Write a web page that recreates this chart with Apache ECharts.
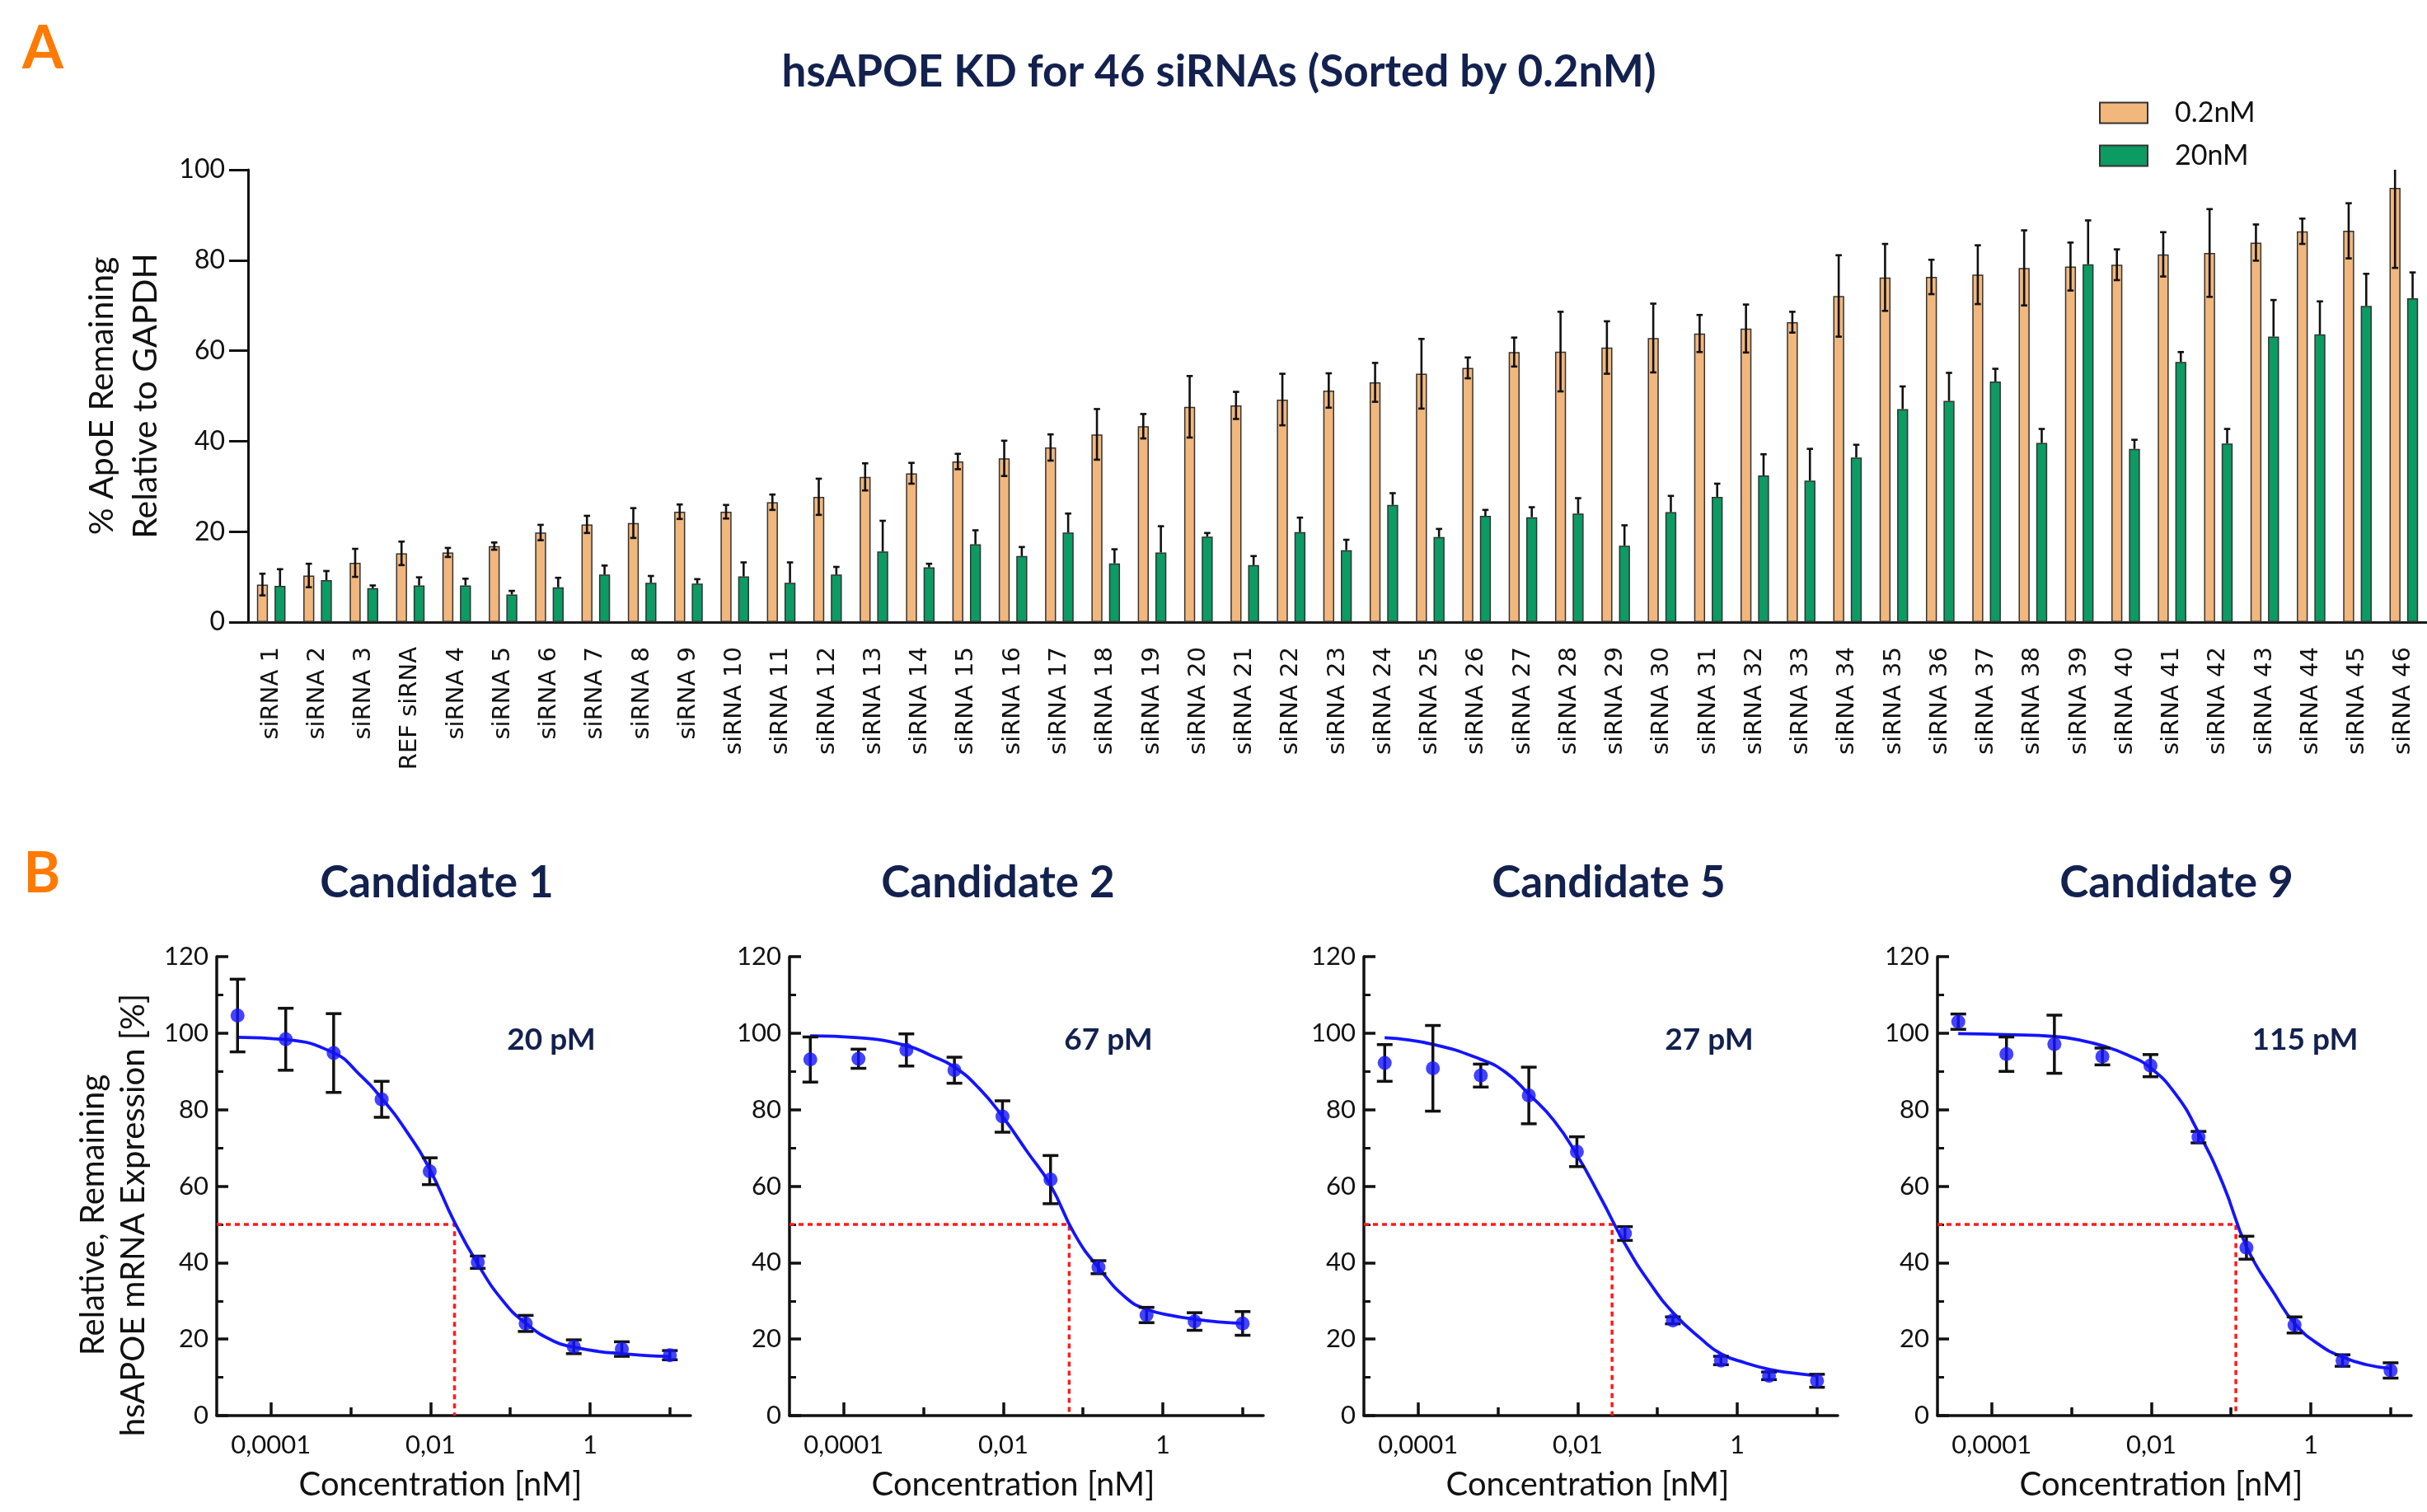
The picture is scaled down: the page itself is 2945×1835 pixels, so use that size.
<!DOCTYPE html>
<html><head><meta charset="utf-8">
<script src="https://cdn.jsdelivr.net/npm/echarts@6/dist/echarts.min.js"></script>
<style>html,body{margin:0;padding:0;background:#fff}#c{width:2945px;height:1835px}</style>
</head><body><div id="c"></div>
<script>
// ---------- Panel A data ----------
const categories = ['siRNA 1','siRNA 2','siRNA 3','REF siRNA','siRNA 4','siRNA 5','siRNA 6','siRNA 7','siRNA 8','siRNA 9',
  'siRNA 10','siRNA 11','siRNA 12','siRNA 13','siRNA 14','siRNA 15','siRNA 16','siRNA 17','siRNA 18','siRNA 19',
  'siRNA 20','siRNA 21','siRNA 22','siRNA 23','siRNA 24','siRNA 25','siRNA 26','siRNA 27','siRNA 28','siRNA 29',
  'siRNA 30','siRNA 31','siRNA 32','siRNA 33','siRNA 34','siRNA 35','siRNA 36','siRNA 37','siRNA 38','siRNA 39',
  'siRNA 40','siRNA 41','siRNA 42','siRNA 43','siRNA 44','siRNA 45','siRNA 46'];
const kd02 = [8.3,10.3,13.1,15.2,15.4,16.8,19.8,21.6,21.9,24.4,24.4,26.5,27.7,32.1,32.9,35.5,36.2,38.6,41.5,43.3,
  47.6,47.9,49.2,51.2,53.0,54.9,56.2,59.7,59.8,60.7,62.8,63.8,64.9,66.3,72.1,76.2,76.3,76.8,78.3,78.6,
  79.0,81.3,81.6,83.9,86.4,86.5,96.0];
const kd02Err = [2.4,2.6,3.1,2.6,1.0,0.8,1.7,1.9,3.3,1.6,1.5,1.7,4.0,3.0,2.3,1.7,3.9,2.9,5.6,2.7,
  6.8,3.0,5.7,3.8,4.3,7.7,2.3,3.2,8.8,5.8,7.6,4.1,5.3,2.3,9.0,7.4,3.8,6.5,8.3,5.3,
  3.4,4.9,9.7,4.0,2.8,6.1,17.7];
const kd20 = [8.0,9.3,7.5,8.1,8.1,6.1,7.7,10.5,8.7,8.5,10.1,8.7,10.5,15.6,12.1,17.2,14.6,19.8,13.0,15.4,
  18.9,12.6,19.9,15.9,25.9,18.8,23.5,23.2,24.0,16.9,24.3,27.7,32.4,31.3,36.4,47.1,48.9,53.2,39.6,79.1,
  38.3,57.5,39.5,63.1,63.6,69.9,71.6];
const kd20Err = [3.7,2.0,0.6,1.8,1.5,0.8,2.1,2.0,1.5,1.0,3.1,4.5,1.7,6.8,0.8,3.1,2.0,4.2,3.1,5.8,
  0.8,2.0,3.2,2.3,2.6,1.8,1.3,2.2,3.4,4.5,3.6,2.9,4.7,7.0,2.8,5.0,6.2,2.8,3.1,9.7,
  2.0,2.2,3.2,8.1,7.3,7.1,5.7];
const seriesNamesA = ['0.2nM','20nM'];

// ---------- Panel B data ----------
const candidateNames = ['Candidate 1','Candidate 2','Candidate 5','Candidate 9'];
const concNM = [0.0000381,0.000153,0.00061,0.00244,0.00977,0.0391,0.156,0.625,2.5,10];
const cand1Mean = [104.6,98.4,94.8,82.7,63.9,40.1,24.1,18.0,17.4,15.8];
const cand1Err  = [9.5,8.1,10.3,4.7,3.5,1.6,2.1,1.8,1.9,1.2];
const cand2Mean = [93.1,93.3,95.6,90.3,78.2,61.7,38.8,26.3,24.6,24.1];
const cand2Err  = [5.9,2.5,4.2,3.4,4.1,6.3,1.7,2.0,2.3,3.1];
const cand5Mean = [92.2,90.8,88.9,83.7,69.0,47.6,24.9,14.4,10.4,9.1];
const cand5Err  = [4.8,11.2,3.0,7.4,3.9,1.8,0.9,1.1,1.0,1.7];
const cand9Mean = [103.0,94.5,97.1,93.9,91.5,72.8,43.9,23.7,14.4,11.8];
const cand9Err  = [2.0,4.5,7.6,2.2,2.9,1.5,3.0,2.1,1.5,2.0];
// fitted curves at these log10(nM) positions
const curveLogX  = [-4.42,-3.82,-3.21,-2.9,-2.61,-2.3,-2.01,-1.7,-1.41,-1.1,-0.8,-0.45,-0.2,0.1,0.4,0.7,1.0];
const cand1Curve = [98.9,98.3,94.8,89.4,82.9,74.3,64.4,50.6,39.7,30.2,24.0,19.4,17.9,16.8,16.2,15.7,15.5];
const cand2Curve = [99.3,98.8,96.7,94.1,91.1,85.5,78.2,69.0,60.3,47.2,38.5,30.6,27.8,26.2,25.2,24.5,24.1];
const cand5Curve = [98.8,97.1,93.1,89.7,84.0,77.2,68.2,56.5,45.0,34.8,26.8,20.0,16.1,13.8,12.1,11.1,10.4];
const cand9Curve = [99.9,99.6,99.1,98.2,96.7,94.3,90.9,84.2,74.1,60.5,43.9,31.6,24.0,18.6,15.3,13.3,12.3];
const ic50nM = [0.020,0.067,0.027,0.115];
const ic50Labels = ['20 pM','67 pM','27 pM','115 pM'];
const xMajorLog = [-4,-2,0];
const xMinorLog = [-3,-1,1];
const xTickLabels = ['0,0001','0,01','1'];

// ---------- styling / layout ----------
const FONT = 'Lato';
const NAVY = '#13214f';
const ORANGE_LBL = '#ff7a00';
const C_ORANGE = '#f2b77c';
const C_GREEN = '#0b9b63';
const BLUE = '#1414ff';
const RED = '#ff1a1a';
const INK = '#111111';
const X_MIN = -4.68, X_MAX = 1.26;

const means = [cand1Mean,cand2Mean,cand5Mean,cand9Mean];
const errs = [cand1Err,cand2Err,cand5Err,cand9Err];
const curves = [cand1Curve,cand2Curve,cand5Curve,cand9Curve];

const panelLeft = [263, 958, 1655, 2351];
const panelTop = 1161, panelW = 575, panelH = 557;
const titleCenters = [530, 1211, 1952, 2641];
const icLabelCenters = [669, 1345, 2074, 2797];

const chart = echarts.init(document.getElementById('c'));

const grids = [{left: 301, top: 206, width: 2655, height: 549}];
panelLeft.forEach(l => grids.push({left: l, top: panelTop, width: panelW, height: panelH}));

const xAxes = [{
  type: 'category', gridIndex: 0, data: categories, boundaryGap: true,
  axisLine: {lineStyle: {color: '#1a1a1a', width: 3}},
  axisTick: {alignWithLabel: true, length: 20, lineStyle: {color: '#1a1a1a', width: 3}},
  axisLabel: {interval: 0, rotate: 90, margin: 30, fontFamily: 'DejaVu Sans', fontSize: 29, color: INK},
  splitLine: {show: false}
}];
const yAxes = [{
  type: 'value', gridIndex: 0, min: 0, max: 100, interval: 20,
  axisLine: {show: true, lineStyle: {color: INK, width: 3}},
  axisTick: {show: true, length: 23, lineStyle: {color: INK, width: 3}},
  axisLabel: {fontSize: 32, fontFamily: FONT, color: INK, margin: 28},
  splitLine: {show: false},
  name: '% ApoE Remaining\nRelative to GAPDH', nameLocation: 'middle', nameGap: 98,
  nameTextStyle: {fontSize: 41, lineHeight: 53, fontFamily: FONT, color: INK}
}];
for (let g = 1; g <= 4; g++) {
  xAxes.push({
    type: 'value', gridIndex: g, min: X_MIN, max: X_MAX, position: 'bottom',
    axisLine: {show: true, onZero: false, lineStyle: {color: INK, width: 3.5}},
    axisTick: {show: true, inside: true, length: 16, lineStyle: {color: INK, width: 3.5}, customValues: xMajorLog},
    axisLabel: {show: true, customValues: xMajorLog, margin: 20, fontSize: 31, fontFamily: FONT, color: INK,
      formatter: v => xTickLabels[xMajorLog.indexOf(Math.round(v))] || ''},
    splitLine: {show: false},
    name: 'Concentration [nM]', nameLocation: 'middle', nameGap: 64,
    nameTextStyle: {fontSize: 40, fontFamily: FONT, color: INK, padding: [0, 32, 0, 0]}
  });
  const y = {
    type: 'value', gridIndex: g, min: 0, max: 120, interval: 20,
    axisLine: {show: true, onZero: false, lineStyle: {color: INK, width: 3.5}},
    axisTick: {show: true, inside: true, length: 14, lineStyle: {color: INK, width: 3.5}},
    minorTick: {show: true, splitNumber: 2, length: 8, lineStyle: {color: INK, width: 3}},
    axisLabel: {fontSize: 31, fontFamily: FONT, color: INK, margin: 10},
    splitLine: {show: false}, minorSplitLine: {show: false}
  };
  if (g === 1) {
    y.name = 'Relative, Remaining\nhsAPOE mRNA Expression [%]';
    y.nameLocation = 'middle';
    y.nameGap = 76;
    y.nameTextStyle = {fontSize: 40, lineHeight: 49, fontFamily: FONT, color: INK, padding: [0, 70, 0, 0]};
  }
  yAxes.push(y);
}
for (let g = 1; g <= 4; g++) {
  xAxes.push({
    type: 'value', gridIndex: g, min: X_MIN, max: X_MAX, position: 'bottom', offset: 0,
    axisLine: {show: false, onZero: false},
    axisTick: {show: true, inside: true, length: 10, lineStyle: {color: INK, width: 3.5}, customValues: xMinorLog},
    axisLabel: {show: false},
    splitLine: {show: false}
  });
}

// error bar renderers
const BAR_OFFSET = (0.237 + 0.237 * 0.6) / 2;
function barErr(sign, both) {
  return function (params, api) {
    const i = api.value(0), v = api.value(1), e = api.value(2);
    const band = api.size([1, 0])[0];
    const base = api.coord([i, v]);
    const cx = base[0] + sign * BAR_OFFSET * band;
    let topVal = v + e, topCap = true;
    if (topVal > 100) { topVal = 100; topCap = false; }
    const yt = api.coord([i, topVal])[1];
    const yb = both ? api.coord([i, Math.max(0, v - e)])[1] : base[1];
    const cap = 3.8;
    const st = {stroke: INK, lineWidth: 2.6};
    const ch = [{type: 'line', shape: {x1: cx, y1: yt, x2: cx, y2: yb}, style: st}];
    if (topCap) ch.push({type: 'line', shape: {x1: cx - cap, y1: yt, x2: cx + cap, y2: yt}, style: st});
    if (both) ch.push({type: 'line', shape: {x1: cx - cap, y1: yb, x2: cx + cap, y2: yb}, style: st});
    return {type: 'group', children: ch};
  };
}
function ptErr(params, api) {
  const x = api.value(0), v = api.value(1), e = api.value(2);
  const t = api.coord([x, v + e]), b = api.coord([x, v - e]);
  const cap = 9.5;
  const st = {stroke: INK, lineWidth: 3.5};
  return {type: 'group', children: [
    {type: 'line', shape: {x1: t[0], y1: t[1], x2: b[0], y2: b[1]}, style: st},
    {type: 'line', shape: {x1: t[0] - cap, y1: t[1], x2: t[0] + cap, y2: t[1]}, style: st},
    {type: 'line', shape: {x1: b[0] - cap, y1: b[1], x2: b[0] + cap, y2: b[1]}, style: st}
  ]};
}

const series = [
  {name: seriesNamesA[0], type: 'bar', xAxisIndex: 0, yAxisIndex: 0, data: kd02, barWidth: '23.7%', barGap: '60%',
    itemStyle: {color: C_ORANGE, borderColor: '#333', borderWidth: 1.5}},
  {name: seriesNamesA[1], type: 'bar', xAxisIndex: 0, yAxisIndex: 0, data: kd20, barWidth: '23.7%', barGap: '60%',
    itemStyle: {color: C_GREEN, borderColor: '#333', borderWidth: 1.5}},
  {type: 'custom', xAxisIndex: 0, yAxisIndex: 0, renderItem: barErr(-1, true), z: 5, silent: true,
    encode: {x: 0, y: 1}, data: kd02.map((v, i) => [i, v, kd02Err[i]])},
  {type: 'custom', xAxisIndex: 0, yAxisIndex: 0, renderItem: barErr(1, false), z: 5, silent: true,
    encode: {x: 0, y: 1}, data: kd20.map((v, i) => [i, v, kd20Err[i]])}
];
for (let k = 0; k < 4; k++) {
  const g = k + 1;
  const icLog = Math.log10(ic50nM[k]);
  series.push({type: 'line', xAxisIndex: g, yAxisIndex: g, symbol: 'none', silent: true, z: 1,
    lineStyle: {color: RED, width: 3.5, type: [6, 5]},
    data: [[X_MIN, 50], [icLog, 50], [icLog, 0]]});
  series.push({type: 'line', xAxisIndex: g, yAxisIndex: g, symbol: 'none', silent: true, z: 2,
    smooth: 0.5, lineStyle: {color: BLUE, width: 3.8},
    data: curveLogX.map((x, i) => [x, curves[k][i]])});
  series.push({type: 'custom', xAxisIndex: g, yAxisIndex: g, renderItem: ptErr, z: 3, silent: true,
    encode: {x: 0, y: 1}, data: concNM.map((c, i) => [Math.log10(c), means[k][i], errs[k][i]])});
  series.push({type: 'scatter', xAxisIndex: g, yAxisIndex: g, symbolSize: 17, z: 4, silent: true,
    itemStyle: {color: BLUE}, data: concNM.map((c, i) => [Math.log10(c), means[k][i]])});
}

function txt(text, x, y, size, color, weight) {
  return {type: 'text', x: x, y: y, silent: true, style: {text: text, fill: color, fontSize: size, fontWeight: weight || 'bold',
    fontFamily: FONT, align: 'center', verticalAlign: 'middle', textAlign: 'center', textVerticalAlign: 'middle'}};
}
const graphic = [
  txt('A', 52, 60, 72, ORANGE_LBL),
  txt('B', 51, 1061, 68, ORANGE_LBL),
  txt('hsAPOE KD for 46 siRNAs (Sorted by 0.2nM)', 1479, 88, 53, NAVY)
];
candidateNames.forEach((n, k) => graphic.push(txt(n, titleCenters[k], 1072, 53, NAVY)));
ic50Labels.forEach((n, k) => graphic.push(txt(n, icLabelCenters[k], 1262, 37, NAVY)));

chart.setOption({
  animation: false,
  backgroundColor: '#ffffff',
  grid: grids,
  xAxis: xAxes,
  yAxis: yAxes,
  legend: {data: seriesNamesA, orient: 'vertical', left: 2542, top: 115, itemWidth: 58, itemHeight: 25, itemGap: 18,
    icon: 'rect', selectedMode: false,
    textStyle: {fontSize: 34, fontFamily: FONT, color: INK, padding: [0, 0, 0, 28]}},
  series: series,
  graphic: graphic
});
</script>
</body></html>
